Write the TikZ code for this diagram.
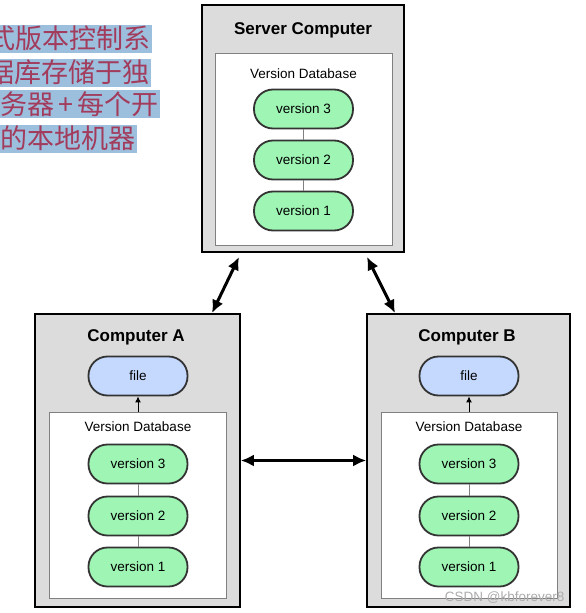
\documentclass[tikz,border=0pt]{standalone}
\usepackage{fontspec}
\setmainfont{Liberation Sans}
\newfontfamily\cjk{Noto Sans CJK SC}
\usetikzlibrary{arrows.meta}
\definecolor{boxgray}{HTML}{DCDCDC}
\definecolor{dbline}{HTML}{808080}
\definecolor{pillline}{HTML}{333333}
\definecolor{versiongreen}{HTML}{9EF5B4}
\definecolor{fileblue}{HTML}{C5D9FF}
\definecolor{hlblue}{HTML}{9CBFDD}
\definecolor{notered}{HTML}{A23B5C}
\begin{document}
\begin{tikzpicture}[x=1pt,y=-1pt,
  computer/.style={draw=black,line width=1.6pt,fill=boxgray,inner sep=0},
  database/.style={draw=dbline,line width=1pt,fill=white,inner sep=0},
  version/.style={draw=pillline,line width=1.8pt,fill=versiongreen,rounded corners=19pt,
    minimum width=99pt,minimum height=39pt,font=\fontsize{13.5}{15}\selectfont},
  fileblob/.style={version,fill=fileblue},
  title/.style={font=\bfseries\fontsize{17}{20}\selectfont},
  dblabel/.style={font=\fontsize{13.5}{15}\selectfont},
  note/.style={anchor=east,fill=hlblue,text=notered,font=\cjk\fontsize{27}{28}\selectfont,
    inner xsep=1.5pt,inner ysep=0pt,minimum height=28pt},
  sync/.style={{Latex[length=13pt,width=12pt]}-{Latex[length=13pt,width=12pt]},line width=3pt}]

  \clip (0,0) rectangle (586,613);

  % note text
  \node (n1) at (152,38.5) [note]{式版本控制系};
  \node (n2) at (151,72.5) [note]{据库存储于独};
  \node (n3) at (160,104) [note]{务器\hspace{4pt}+\hspace{4pt}每个开};
  \node (n4) at (137,138.5) [note]{的本地机器};

  % server
  \node (srv) at (303,128.5) [computer,minimum width=202pt,minimum height=247pt]{};
  \node (srvdb) at (303.5,149) [database,minimum width=177pt,minimum height=192pt]{};
  \node (srvt) at (303,30) [title]{Server Computer};
  \node (srvl) at (303.5,74) [dblabel]{Version Database};
  \node (srv3) at (303.5,109) [version]{version 3};
  \node (srv2) at (303.5,160) [version]{version 2};
  \node (srv1) at (303.5,211) [version]{version 1};

  % computer A
  \node (ca) at (137.5,460.5) [computer,minimum width=205pt,minimum height=293pt]{};
  \node (cadb) at (138,505) [database,minimum width=177pt,minimum height=186pt]{};
  \node (cat) at (136,337) [title]{Computer A};
  \node (afile) at (138,376) [fileblob]{file};
  \node (cal) at (138,427) [dblabel]{Version Database};
  \node (a3) at (138,464) [version]{version 3};
  \node (a2) at (138,516) [version]{version 2};
  \node (a1) at (138,567) [version]{version 1};

  % computer B
  \node (cb) at (468.5,460.5) [computer,minimum width=203pt,minimum height=293pt]{};
  \node (cbdb) at (469,505) [database,minimum width=176pt,minimum height=186pt]{};
  \node (cbt) at (467,337) [title]{Computer B};
  \node (bfile) at (469,376) [fileblob]{file};
  \node (cbl) at (469,427) [dblabel]{Version Database};
  \node (b3) at (469,464) [version]{version 3};
  \node (b2) at (469,516) [version]{version 2};
  \node (b1) at (469,567) [version]{version 1};

  \draw[dbline,line width=0.8pt] (srv3) -- (srv2);
  \draw[dbline,line width=0.8pt] (srv2) -- (srv1);
  \draw[dbline,line width=0.8pt] (a3) -- (a2);
  \draw[dbline,line width=0.8pt] (a2) -- (a1);
  \draw[dbline,line width=0.8pt] (b3) -- (b2);
  \draw[dbline,line width=0.8pt] (b2) -- (b1);

  \draw[-{Latex[length=6pt,width=6pt]},line width=1pt] (cadb.north) -- (afile.south);
  \draw[-{Latex[length=6pt,width=6pt]},line width=1pt] (cbdb.north) -- (bfile.south);

  \coordinate (sa) at (239,257);
  \coordinate (as) at (212,313);
  \coordinate (sb) at (367,257);
  \coordinate (bs) at (395,313);
  \draw[sync] (sa) -- (as);
  \draw[sync] (sb) -- (bs);
  \draw[sync] (ca.east) -- (cb.west);

  \node (mark) at (568,598) [anchor=east,text=gray!65,font=\fontsize{13.5}{15}\selectfont]{CSDN @kbforever8};

\end{tikzpicture}
\end{document}
